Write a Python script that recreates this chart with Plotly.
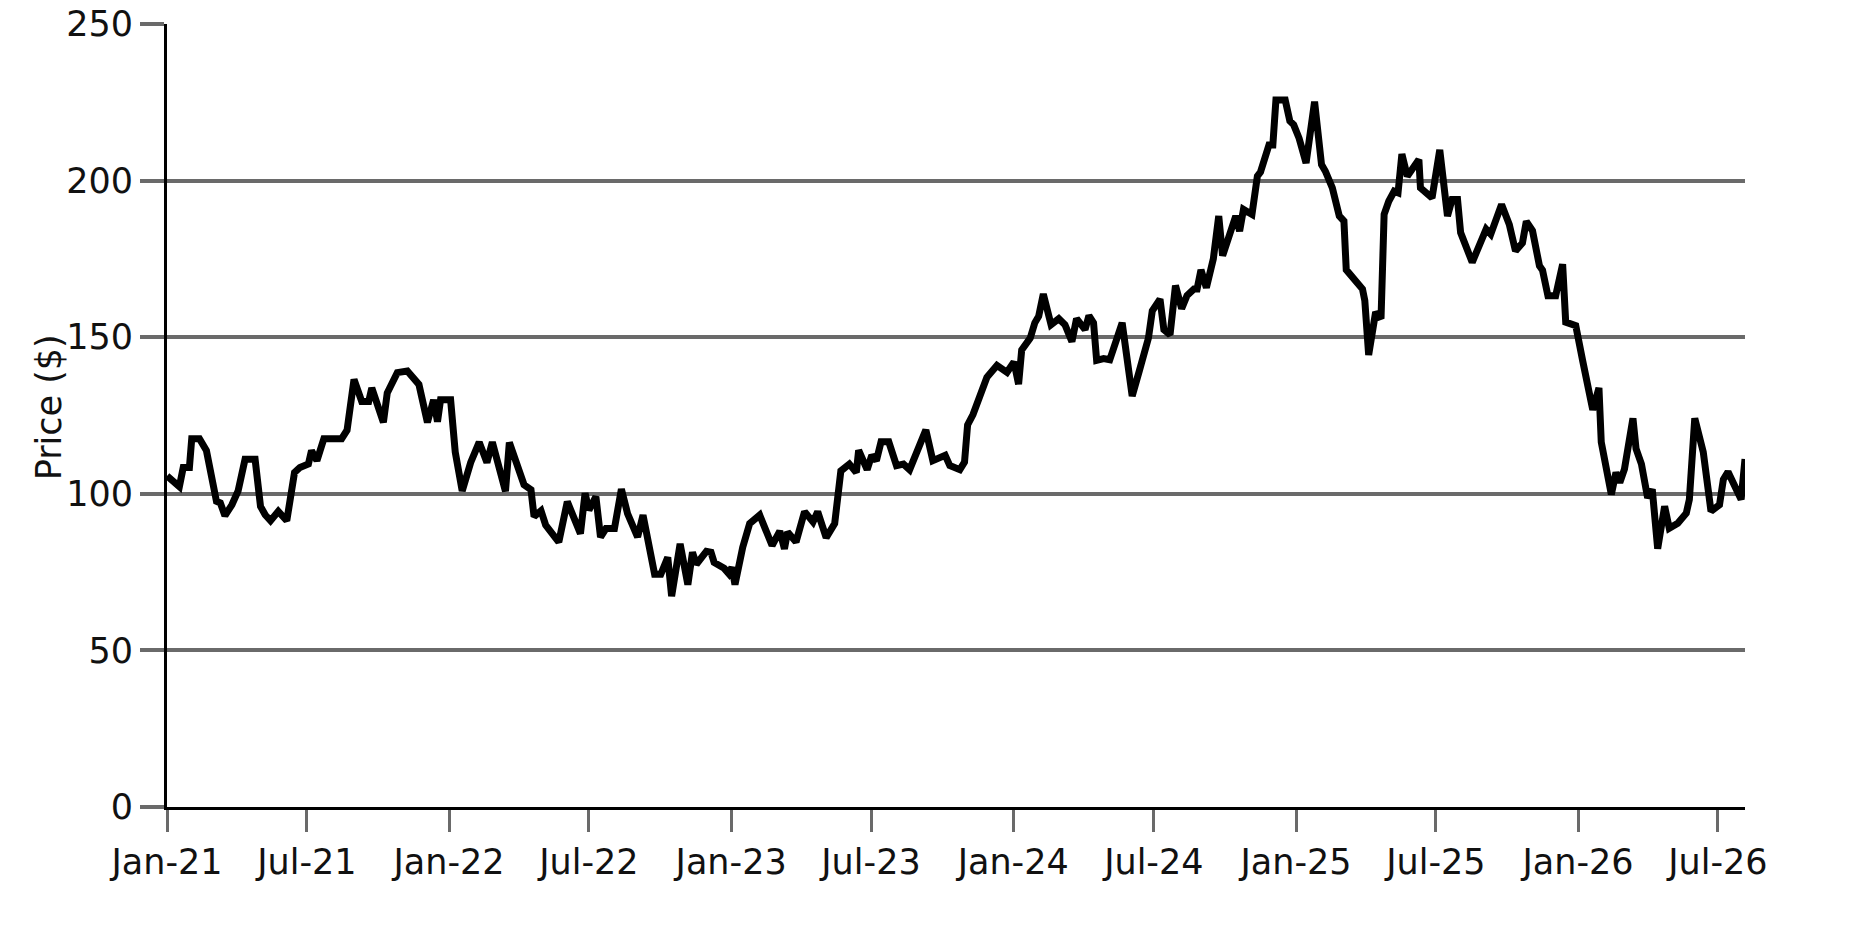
import pandas as pd
import plotly.graph_objects as go

# days after 2021-01-01
day_offsets = [
    0, 16, 21, 29, 32, 42, 51, 58, 64, 69, 75, 84, 92, 101, 114, 121, 127, 134, 144, 155,
    165, 172, 183, 187, 194, 203, 226, 233, 242, 252, 261, 265, 274, 280, 285, 298, 311, 319, 326, 337,
    345, 350, 354, 367, 373, 382, 393, 404, 410, 414, 421,
    438, 443, 453, 462, 471, 475, 484, 490, 507, 518, 535, 541, 546, 555, 561, 568, 579, 588, 596,
    609, 616, 631, 639, 648, 653, 664, 674, 680, 685, 698, 704, 708, 721, 727, 731, 735, 745, 754, 767,
    773, 783, 793, 799, 803, 814, 825, 836, 842, 853, 864,
    872, 883, 892, 895, 906, 912, 918, 924, 934, 944, 953, 961, 982, 991, 1007, 1013, 1026, 1032, 1036,
    1043, 1052, 1061, 1074, 1087, 1096, 1102, 1106, 1117, 1123, 1128, 1134, 1144, 1154, 1162, 1171, 1177,
    1188, 1193, 1199, 1203, 1212, 1220, 1236, 1249, 1259, 1270, 1275, 1285, 1290, 1298, 1305,
    1313, 1320, 1329, 1333, 1338, 1345, 1354, 1361, 1366, 1383, 1388, 1393, 1404, 1411, 1415, 1426, 1431,
    1435, 1447, 1453, 1458, 1465, 1474, 1485, 1494, 1499, 1508, 1517, 1523, 1526, 1534, 1547, 1550, 1555,
    1564, 1571, 1575, 1581, 1588, 1593, 1598, 1605, 1620, 1622, 1637, 1647, 1657, 1663, 1670, 1674, 1689,
    1707, 1713,
    1727, 1737, 1745, 1754, 1759, 1767, 1776, 1780, 1787, 1797, 1806, 1810, 1823, 1832, 1841, 1845, 1853,
    1856, 1869, 1875, 1880, 1886, 1897, 1901, 1908, 1916, 1922, 1929, 1938, 1944, 1955, 1966, 1970, 1977,
    1988, 1998, 2009, 2014, 2020, 2037, 2042,
]

prices = [
    105.7, 102.3, 108.4, 108.4, 117.6, 117.6, 113.8, 105.7, 97.6, 97.1, 93.0, 96.5, 100.9, 111.0, 111.0, 96.0, 93.3, 91.4, 94.4, 91.4,
    106.8, 108.4, 109.5, 113.8, 110.6, 117.6, 117.6, 120.3, 136.5, 129.5, 129.5, 133.8, 127.3, 122.8, 132.2, 138.7, 139.2, 136.5, 134.9, 122.8,
    130.0, 123.0, 130.0, 130.0, 113.3, 100.9, 110.0, 116.5, 113.3, 110.0, 116.5,
    100.8, 116.4, 110.0, 102.9, 101.3, 92.7, 94.6, 90.0, 84.6, 97.5, 87.3, 100.2, 94.8, 99.1, 86.2, 88.9, 88.9, 101.5, 93.7,
    86.2, 93.2, 74.3, 74.3, 79.7, 67.3, 84.0, 71.0, 81.3, 77.5, 81.6, 81.3, 78.1, 76.2, 74.5, 76.5, 71.0, 82.9, 90.5, 93.2,
    89.4, 83.5, 88.1, 82.4, 87.8, 84.6, 94.3, 91.0, 94.3, 86.0, 90.5,
    107.3, 109.5, 106.8, 113.9, 107.7, 112.3, 110.6, 116.6, 116.6, 109.0, 109.5, 107.7, 120.4, 110.6, 112.3, 109.0, 107.7, 110.1, 122.0,
    125.3, 130.7, 137.2, 141.0, 138.8, 142.1, 135.0, 145.9, 149.7, 154.6, 156.7, 163.8, 154.0, 155.9, 154.0, 148.6, 155.9,
    152.4, 156.9, 154.6, 142.6, 143.2, 142.8, 154.6, 131.2, 139.9, 149.7, 158.4, 162.1, 152.4, 150.8, 166.5,
    159.1, 163.3, 165.4, 165.4, 171.5, 165.8, 175.0, 188.7, 176.0, 188.7, 183.9, 190.8, 189.2, 201.4, 202.7, 211.4, 211.4,
    225.7, 225.7, 219.0, 217.8, 213.5, 205.6, 225.2, 205.1, 203.0, 197.7, 188.7, 187.1, 171.5, 169.1, 165.4, 161.7, 144.3,
    158.0, 155.9, 189.2, 193.4, 196.6, 196.1, 208.5, 201.4, 206.7, 197.7, 194.5, 209.8, 188.7, 194.0, 194.0, 183.4, 173.9,
    184.5, 182.9,
    192.4, 186.0, 177.5, 180.1, 187.0, 184.0, 172.8, 171.4, 163.2, 163.2, 173.3, 154.8, 153.7, 142.4, 129.5, 126.8, 133.8,
    116.5, 99.8, 106.8, 103.6, 107.9, 124.1, 114.4, 109.5, 98.7, 101.4, 82.5, 96.0, 89.0, 90.6, 93.8, 98.2, 124.1,
    113.3, 94.4, 96.5, 104.6, 107.0, 98.2, 111.1,
]

tick_dates = ["2021-01-01", "2021-07-01", "2022-01-01", "2022-07-01", "2023-01-01", "2023-07-01",
              "2024-01-01", "2024-07-01", "2025-01-01", "2025-07-01", "2026-01-01", "2026-07-01"]
tick_text = ["Jan-21", "Jul-21", "Jan-22", "Jul-22", "Jan-23", "Jul-23",
             "Jan-24", "Jul-24", "Jan-25", "Jul-25", "Jan-26", "Jul-26"]
y_ticks = [0, 50, 100, 150, 200, 250]

dates = pd.Timestamp("2021-01-01") + pd.to_timedelta(day_offsets, unit="D")

GRID = "#6a6a6a"
FONT = dict(family="DejaVu Sans", size=35, color="#111111")

fig = go.Figure(go.Scatter(
    x=dates,
    y=prices,
    mode="lines",
    line=dict(color="#000000", width=7),
    hoverinfo="x+y",
))

# the page body adds 8px around the figure, so size and margins allow for it
fig.update_layout(
    width=1859,
    height=922,
    plot_bgcolor="white",
    paper_bgcolor="white",
    font=FONT,
    showlegend=False,
    margin=dict(l=159, r=122, t=16, b=123),
    annotations=[dict(
        text="Price ($)",
        textangle=-90,
        xref="paper", yref="paper",
        x=-0.075, y=0.51,
        xanchor="center", yanchor="middle",
        showarrow=False,
        font=FONT,
    )],
)

fig.update_xaxes(
    range=[dates[0], dates[-1]],
    tickvals=pd.to_datetime(tick_dates),
    ticktext=tick_text,
    showgrid=False,
    zeroline=False,
    showline=True,
    linecolor="#000000",
    linewidth=3,
    ticks="outside",
    ticklen=22,
    tickwidth=3,
    tickcolor=GRID,
    tickfont=FONT,
    automargin=False,
)

fig.update_yaxes(
    range=[0, 250],
    tickvals=y_ticks,
    showgrid=True,
    gridcolor=GRID,
    gridwidth=4,
    zeroline=False,
    showline=True,
    linecolor="#000000",
    linewidth=3,
    ticks="outside",
    ticklen=24,
    tickwidth=4,
    tickcolor=GRID,
    tickfont=FONT,
    ticklabeloverflow="allow",
    automargin=False,
)

fig.write_html("out.html")
